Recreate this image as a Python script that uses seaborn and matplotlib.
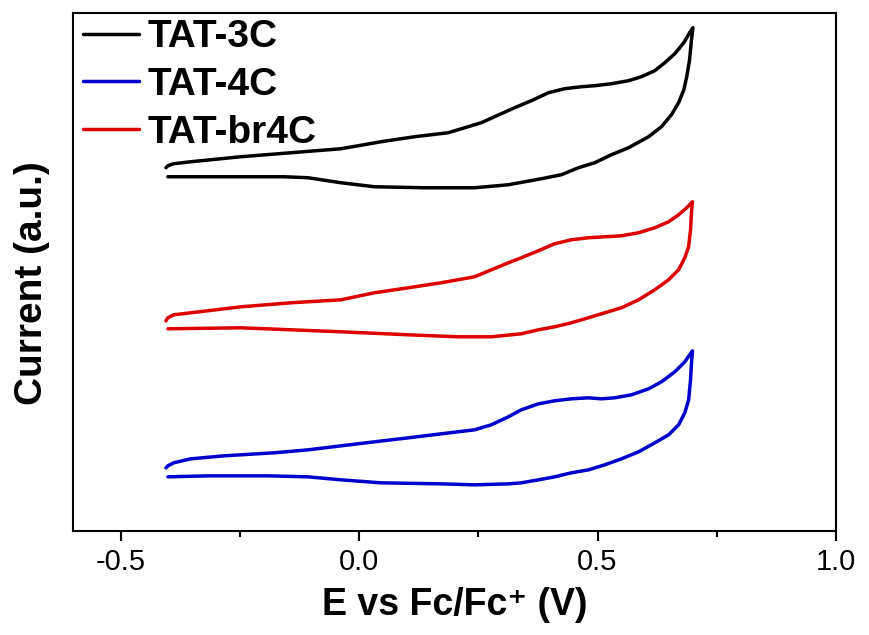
import pandas as pd
import seaborn as sns
import matplotlib.pyplot as plt
from matplotlib.ticker import MultipleLocator

# CV loops: forward scan (upper branch) then reverse scan (lower branch)
v_3c = [-0.405, -0.401, -0.389, -0.353, -0.248, -0.143, -0.038, 0.046, 0.116, 0.187,
        0.256, 0.326, 0.361, 0.397, 0.431, 0.466, 0.494, 0.529, 0.565, 0.592,
        0.620, 0.641, 0.662, 0.681, 0.693, 0.700,
        0.697, 0.693, 0.687, 0.681, 0.670, 0.655, 0.634, 0.607, 0.565, 0.529,
        0.494, 0.460, 0.424, 0.382, 0.313, 0.242, 0.137, 0.032, -0.038, -0.107,
        -0.158, -0.401]
i_3c = [3.63, 3.65, 3.67, 3.69, 3.74, 3.78, 3.82, 3.89, 3.94, 3.98,
        4.08, 4.23, 4.30, 4.38, 4.42, 4.44, 4.45, 4.47, 4.50, 4.54,
        4.60, 4.68, 4.77, 4.88, 4.98, 5.03,
        4.91, 4.71, 4.54, 4.41, 4.28, 4.16, 4.04, 3.94, 3.83, 3.76,
        3.68, 3.63, 3.56, 3.52, 3.46, 3.43, 3.43, 3.44, 3.48, 3.53,
        3.54, 3.54]

v_br4c = [-0.405, -0.401, -0.389, -0.353, -0.248, -0.143, -0.038, 0.032, 0.103, 0.172,
          0.242, 0.313, 0.340, 0.376, 0.410, 0.445, 0.481, 0.515, 0.550, 0.586,
          0.620, 0.649, 0.670, 0.687, 0.699,
          0.697, 0.695, 0.691, 0.683, 0.670, 0.649, 0.620, 0.586, 0.550, 0.515,
          0.481, 0.445, 0.410, 0.376, 0.340, 0.277, 0.208, 0.103, -0.038, -0.143,
          -0.248, -0.401]
i_br4c = [2.10, 2.13, 2.16, 2.18, 2.24, 2.28, 2.31, 2.38, 2.43, 2.48,
          2.54, 2.68, 2.73, 2.80, 2.87, 2.91, 2.93, 2.94, 2.95, 2.98,
          3.03, 3.09, 3.16, 3.23, 3.29,
          3.18, 3.01, 2.84, 2.73, 2.61, 2.51, 2.41, 2.31, 2.23, 2.18,
          2.13, 2.08, 2.04, 2.01, 1.97, 1.94, 1.94, 1.96, 1.99, 2.01,
          2.03, 2.02]

v_4c = [-0.405, -0.401, -0.389, -0.353, -0.284, -0.179, -0.107, -0.038, 0.032, 0.103,
        0.172, 0.242, 0.277, 0.313, 0.340, 0.376, 0.410, 0.445, 0.481, 0.508,
        0.536, 0.571, 0.607, 0.634, 0.662, 0.683, 0.699,
        0.697, 0.695, 0.691, 0.683, 0.670, 0.649, 0.620, 0.586, 0.550, 0.515,
        0.481, 0.445, 0.410, 0.376, 0.340, 0.313, 0.242, 0.172, 0.046, -0.038,
        -0.107, -0.191, -0.317, -0.401]
i_4c = [0.63, 0.65, 0.68, 0.72, 0.75, 0.78, 0.81, 0.85, 0.89, 0.93,
        0.97, 1.01, 1.06, 1.14, 1.21, 1.27, 1.30, 1.32, 1.33, 1.32,
        1.33, 1.36, 1.42, 1.49, 1.59, 1.69, 1.80,
        1.68, 1.51, 1.31, 1.18, 1.06, 0.96, 0.88, 0.79, 0.72, 0.66,
        0.61, 0.58, 0.54, 0.51, 0.48, 0.47, 0.46, 0.47, 0.48, 0.51,
        0.54, 0.55, 0.55, 0.54]

names = ["TAT-3C", "TAT-4C", "TAT-br4C"]
colors = {"TAT-3C": "#000000", "TAT-4C": "#0000cc", "TAT-br4C": "#dd0000"}

df = pd.concat([
    pd.DataFrame({"E": v_3c, "I": i_3c, "sample": "TAT-3C"}),
    pd.DataFrame({"E": v_4c, "I": i_4c, "sample": "TAT-4C"}),
    pd.DataFrame({"E": v_br4c, "I": i_br4c, "sample": "TAT-br4C"}),
], ignore_index=True)

sns.set_theme(style="ticks")
plt.rcParams['font.family'] = ['Liberation Sans', 'DejaVu Sans']
plt.rcParams['axes.unicode_minus'] = False
plt.rcParams['text.color'] = 'black'
plt.rcParams['axes.labelcolor'] = 'black'
plt.rcParams['xtick.color'] = 'black'
plt.rcParams['lines.solid_joinstyle'] = 'round'

fig = plt.figure(figsize=(8.69, 6.35), dpi=100)
ax = fig.add_axes([0.084, 0.164, 0.878, 0.816])

sns.lineplot(data=df, x="E", y="I", hue="sample", hue_order=names, palette=colors,
             sort=False, estimator=None, linewidth=2.5, ax=ax)

ax.set_xlim(-0.6, 1.0)
ax.set_ylim(0, 5.18)
ax.xaxis.set_major_locator(MultipleLocator(0.5))
ax.xaxis.set_minor_locator(MultipleLocator(0.25))
ax.set_yticks([])
ax.tick_params(axis='x', which='major', direction='out', length=7, width=1.5,
               labelsize=21, pad=5)
ax.tick_params(axis='x', which='minor', direction='out', length=4, width=1.5)
for s in ax.spines.values():
    s.set_linewidth(1.5)
    s.set_color('black')

ax.set_xlabel("E vs Fc/Fc\u207a (V)", fontsize=27, fontweight='bold', labelpad=8)
ax.set_ylabel("Current (a.u.)", fontsize=28, fontweight='bold')
ax.yaxis.set_label_coords(-0.030, 0.479)

ax.legend(loc='upper left', bbox_to_anchor=(0.0, 1.006), frameon=False,
          prop={'size': 28, 'weight': 'bold'}, handlelength=1.45, handletextpad=0.23,
          labelspacing=0.3, borderpad=0.1, borderaxespad=0.15)

fig.savefig("out.png", dpi=100)
